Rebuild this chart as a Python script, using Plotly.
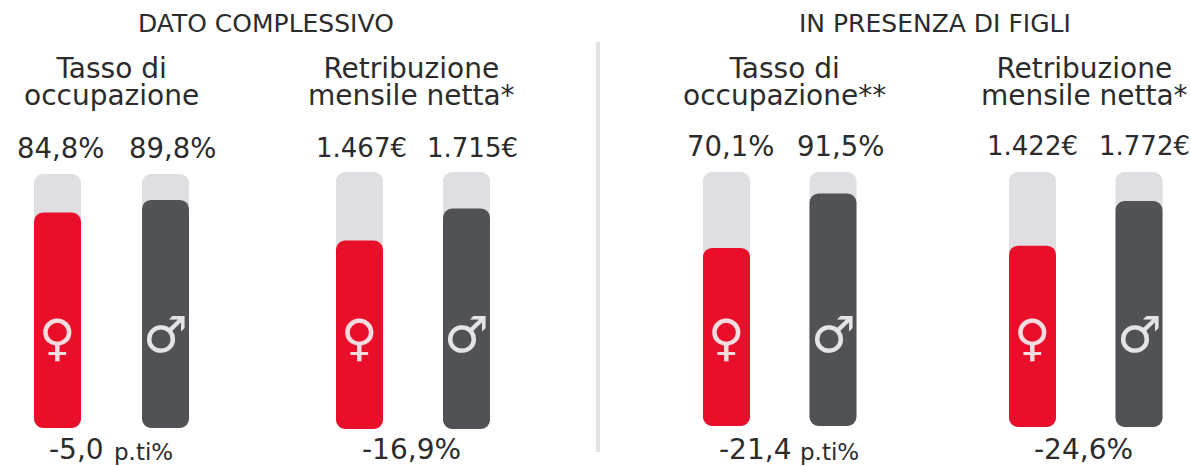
import plotly.graph_objects as go

W, H = 1191, 466

genders = ["Donne", "Uomini"]
occ_all = [84.8, 89.8]
pay_all = [1467, 1715]
occ_kids = [70.1, 91.5]
pay_kids = [1422, 1772]
occ_max = 100
pay_max = 2000

section_titles = ["DATO COMPLESSIVO", "IN PRESENZA DI FIGLI"]
panel_titles = [("Tasso di", "occupazione"), ("Retribuzione", "mensile netta*"),
                ("Tasso di", "occupazione**"), ("Retribuzione", "mensile netta*")]
value_labels = ["84,8%", "89,8%", "1.467€", "1.715€", "70,1%", "91,5%", "1.422€", "1.772€"]
gap_labels = ["-5,0", "-16,9%", "-21,4", "-24,6%"]
unit_label = "p.ti%"

RED, DARK, TRACK, INK = "#e90f2b", "#505255", "#dfdfe3", "#2b2b2b"
TEXT_FONT = "'DejaVu Sans', sans-serif"

# panel: values, scale, bar centres px, top px, bottom px
panels = [
    (occ_all, occ_max, 57.5, 165.5, 174, 428),
    (pay_all, pay_max, 359.5, 466.5, 172, 429),
    (occ_kids, occ_max, 726.5, 833, 172, 426),
    (pay_kids, pay_max, 1032.5, 1139, 172, 427),
]
RADIUS = 9
PAD = 0.45

fig = go.Figure()
layout_axes = {}
for i, (vals, vmax, c0, c1, top, bottom) in enumerate(panels, start=1):
    unit = c1 - c0
    xa, ya, yb = f"x{i}", f"y{i}", f"y{i + 10}"
    shared = dict(x=genders, xaxis=xa, width=47 / unit, showlegend=False, hoverinfo="skip",
                  base=[0, 0])
    fig.add_trace(go.Bar(y=[vmax, vmax], yaxis=ya, marker=dict(color=TRACK, line_width=0), **shared))
    fig.add_trace(go.Bar(y=vals, yaxis=yb, marker=dict(color=[RED, DARK], line_width=0), **shared))
    suffix = "" if i == 1 else str(i)
    y_common = dict(domain=[1 - bottom / H, 1 - top / H], range=[0, vmax], visible=False,
                    anchor=xa, fixedrange=True)
    layout_axes["xaxis" + suffix] = dict(
        domain=[(c0 - PAD * unit) / W, (c1 + PAD * unit) / W], range=[-PAD, 1 + PAD], visible=False,
        type="category", anchor=ya, fixedrange=True)
    layout_axes["yaxis" + suffix] = dict(**y_common)
    layout_axes[f"yaxis{i + 10}"] = dict(**y_common, overlaying=ya)


def note(text, x, y, size, color=INK):
    return dict(text=text, x=x / W, y=1 - y / H, xref="paper", yref="paper", showarrow=False,
                xanchor="center", yanchor="middle", align="center",
                font=dict(family=TEXT_FONT, size=size, color=color))


notes = []
for t, pos in zip(section_titles, [(266, 23), (935, 23)]):
    notes.append(note(t, *pos, 25))
for (a, b), pos in zip(panel_titles, [(111, 82), (411, 82), (784, 82), (1084, 82)]):
    # the small base size sets the tight line pitch, the span sets the glyph size
    notes.append(note(f"<span style='font-size:28px'>{a}<br>{b}</span>", *pos, 21))
for t, pos in zip(value_labels[:2], [(60, 148), (172, 148)]):
    notes.append(note(t, *pos, 27.5))
for t, pos in zip(value_labels[2:4], [(361, 148), (472, 148)]):
    notes.append(note(t, *pos, 26))
for t, pos in zip(value_labels[4:6], [(730, 146), (840, 146)]):
    notes.append(note(t, *pos, 27.5))
for t, pos in zip(value_labels[6:], [(1032.5, 146), (1144, 146)]):
    notes.append(note(t, *pos, 26))
for t, pos in zip(gap_labels, [(76, 449.5), (411, 449.5), (755, 449.5), (1083, 449.5)]):
    notes.append(note(t, *pos, 28))
for pos in [(143, 452), (829, 452)]:
    notes.append(note(unit_label, *pos, 23))
for x in (57.5, 359.5, 726.5, 1032.5):
    notes.append(note("♀", x, 338, 50, "#f4dcdf"))
for x in (165.5, 466.5, 833, 1139):
    notes.append(note("♂", x, 335, 50, "#e4e4e6"))

fig.update_layout(
    width=W, height=H, margin=dict(l=0, r=0, t=0, b=0, pad=0),
    paper_bgcolor="white", plot_bgcolor="white", barmode="overlay",
    barcornerradius=RADIUS, annotations=notes,
    shapes=[dict(type="line", xref="paper", yref="paper", x0=598 / W, x1=598 / W,
                 y0=1 - 42 / H, y1=1 - 452 / H, line=dict(color="#e3e3e6", width=4))],
    **layout_axes,
)
fig.write_html("out.html", config={"displayModeBar": False},
               post_script="document.body.style.margin='0';")
